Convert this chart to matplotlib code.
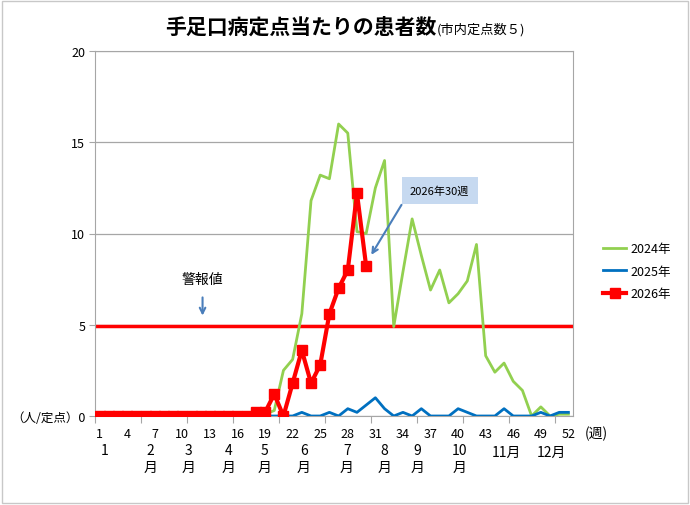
import matplotlib
matplotlib.use("Agg")
import matplotlib.pyplot as plt
from matplotlib.patches import Rectangle

plt.rcParams['font.family'] = ['Noto Sans CJK JP', 'DejaVu Sans']

# weekly patients per sentinel site
weeks = list(range(1, 53))
cases_2024 = [0, 0, 0, 0, 0, 0, 0, 0, 0, 0, 0, 0, 0, 0, 0, 0, 0, 0, 0.1, 0.3,
              2.5, 3.1, 5.6, 11.8, 13.2, 13.0, 16.0, 15.5, 10.1, 10.0,
              12.5, 14.0, 4.9, 7.9, 10.8, 8.8, 6.9, 8.0, 6.2, 6.7,
              7.4, 9.4, 3.3, 2.4, 2.9, 1.9, 1.4, 0.0, 0.5, 0.0, 0.1, 0.1]
cases_2025 = [0, 0.2, 0, 0, 0, 0, 0, 0, 0, 0, 0, 0, 0, 0, 0, 0, 0, 0, 0, 0,
              0, 0, 0.2, 0, 0, 0.2, 0, 0.4, 0.2, 0.6,
              1.0, 0.4, 0, 0.2, 0, 0.4, 0, 0, 0, 0.4,
              0.2, 0, 0, 0, 0.4, 0, 0, 0, 0.2, 0, 0.2, 0.2]
weeks_2026 = list(range(1, 31))
cases_2026 = [0, 0, 0, 0, 0, 0, 0, 0, 0, 0, 0, 0, 0, 0, 0, 0, 0, 0.2, 0.2, 1.2,
              0, 1.8, 3.6, 1.8, 2.8, 5.6, 7.0, 8.0, 12.2, 8.2]
alert_level = 4.95

week_ticks = list(range(1, 53, 3))
month_labels = ['1', '2\n月', '3\n月', '4\n月', '5\n月', '6\n月', '7\n月',
                '8\n月', '9\n月', '10\n月', '11月', '12月']
month_pos = [1.5, 6.5, 10.7, 15.0, 18.9, 23.2, 27.9, 32.0, 35.6, 40.2, 45.3, 50.2]

fig = plt.figure(figsize=(6.9, 5.06), dpi=100)
ax = fig.add_axes([95/690, 89/506, 478/690, 365/506])

ax.axhline(alert_level, color='#ff0000', lw=2.5, zorder=2)
ax.plot(weeks, cases_2024, color='#92d050', lw=2, label='2024年', zorder=3)
ax.plot(weeks, cases_2025, color='#0070c0', lw=2, label='2025年', zorder=3)
ax.plot(weeks_2026, cases_2026, color='#ff0000', lw=3, marker='s', ms=7,
        label='2026年', zorder=4)

ax.set_xlim(0.5, 52.5)
ax.set_ylim(0, 20)
ax.set_yticks([0, 5, 10, 15, 20])
ax.set_yticklabels(['（人/定点）0', '5', '10', '15', '20'], fontsize=9)
ax.yaxis.grid(True, color='#a6a6a6', lw=0.9)
ax.set_axisbelow(True)
ax.tick_params(axis='y', length=4, color='#a6a6a6', pad=3)

# tick marks every 5 weeks between categories, labels every 3 weeks
ax.set_xticks([0.5 + 5 * i for i in range(11)])
ax.set_xticklabels([])
ax.tick_params(axis='x', which='major', length=5, color='#a6a6a6')
ax.set_xticks(week_ticks, minor=True)
ax.set_xticklabels([str(w) for w in week_ticks], minor=True, fontsize=9)
ax.tick_params(axis='x', which='minor', length=0, pad=8)

for s in ax.spines.values():
    s.set_color('#a6a6a6')

trans = ax.get_xaxis_transform()
for lab, pos in zip(month_labels, month_pos):
    y = -0.075 if '\n' in lab or lab == '1' else -0.08
    ax.text(pos, y, lab, transform=trans, ha='center', va='top', fontsize=10,
            linespacing=1.25)
ax.text(1.025, -0.047, '(週)', transform=ax.transAxes, ha='left', va='center',
        fontsize=10)

# annotations
ax.text(12.2, 7.5, '警報値', ha='center', va='center', fontsize=10)
ax.annotate('', xy=(12.2, 5.35), xytext=(12.2, 6.65),
            arrowprops=dict(arrowstyle='->', color='#4a7ebb', lw=1.5))
ax.text(38.0, 12.35, '2026年30週', ha='center', va='center', fontsize=8,
        bbox=dict(boxstyle='square,pad=0.75', fc='#c6d9f0', ec='none'))
ax.annotate('', xy=(30.4, 8.7), xytext=(34.0, 11.7),
            arrowprops=dict(arrowstyle='->', color='#4a7ebb', lw=1.5))

fig.legend(loc='upper left', bbox_to_anchor=(592/690, 1 - 232/506),
           frameon=False, fontsize=9, handlelength=1.8, handletextpad=0.4,
           labelspacing=0.75)

fig.text(436/690, 1 - 34/506, '手足口病定点当たりの患者数', ha='right',
         va='baseline', fontsize=15, fontweight='bold')
fig.text(437/690, 1 - 34/506, '(市内定点数５)', ha='left', va='baseline',
         fontsize=9.5)

fig.patches.append(Rectangle((0.003, 0.003), 0.994, 0.994, transform=fig.transFigure,
                             fill=False, ec='#c8c8c8', lw=1))

fig.savefig('out.png', dpi=100)
